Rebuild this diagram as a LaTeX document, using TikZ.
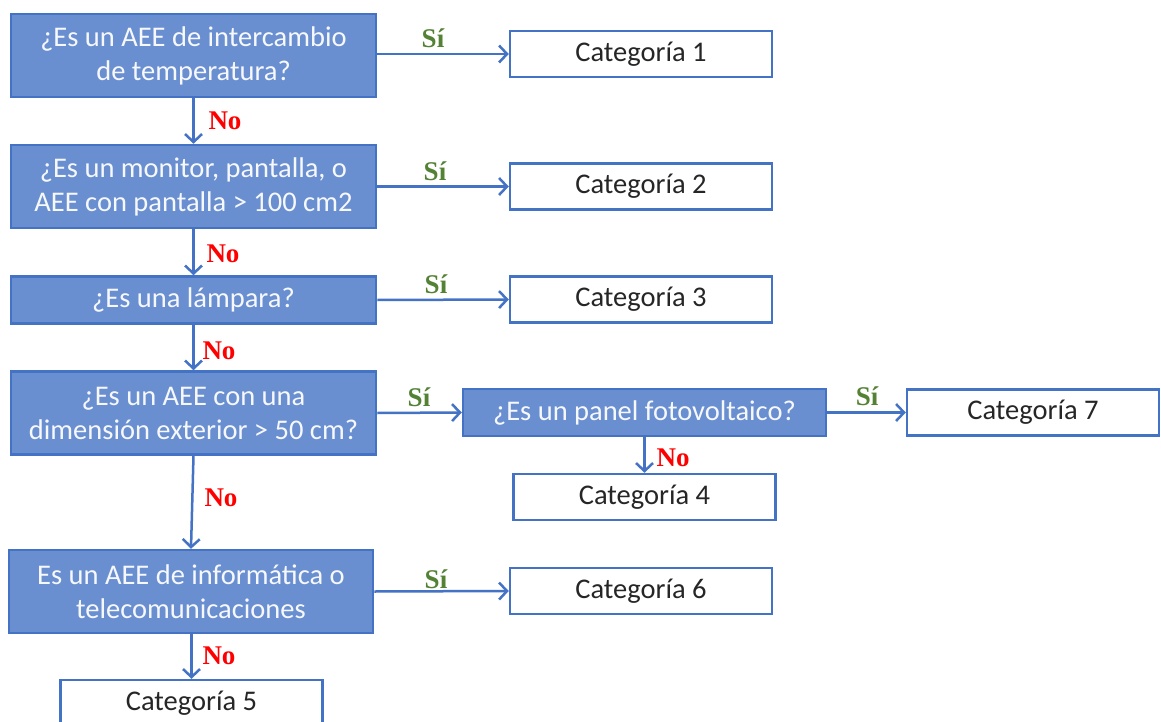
\documentclass[tikz,border=0pt]{standalone}
\usepackage{fontspec}
\setmainfont{Carlito}
\newfontfamily\lblfont{Liberation Serif}
\usetikzlibrary{arrows.meta}
\definecolor{bfill}{RGB}{106,143,208}
\definecolor{bline}{RGB}{68,114,196}
\definecolor{sigreen}{RGB}{84,130,53}
\definecolor{nored}{RGB}{255,0,0}
\begin{document}
\begin{tikzpicture}[x=1pt,y=-1pt,
  q/.style={draw=bline, fill=bfill, line width=2.5pt, text=white!94!bfill,
    font=\fontsize{28.5}{34}\selectfont, align=center, inner sep=0pt},
  cat/.style={draw=bline, fill=white, line width=2.5pt, text=black!85,
    font=\fontsize{28.5}{34}\selectfont, align=center, inner sep=0pt,
    minimum width=262pt, minimum height=46pt},
  arr/.style={draw=bline, line width=2.5pt, -{Straight Barb[length=8pt,width=17pt,line width=2.5pt]}},
  si/.style={text=sigreen, font=\lblfont\bfseries\fontsize{27}{30}\selectfont, inner sep=0pt},
  no/.style={text=nored, font=\lblfont\bfseries\fontsize{27}{30}\selectfont, inner sep=0pt}]
\useasboundingbox (0,0) rectangle (1161,722);
\fill[white] (0,0) rectangle (1161,722);
% question boxes
\node[q, minimum width=365pt, minimum height=83pt] (q1) at (193.5,55.5) {¿Es un AEE de intercambio\\de temperatura?};
\node[q, minimum width=365pt, minimum height=83pt] (q2) at (193.5,186.5) {¿Es un monitor, pantalla, o\\AEE con pantalla > 100 cm2};
\node[q, minimum width=365pt, minimum height=47pt] (q3) at (193.5,300) {¿Es una lámpara?};
\node[q, minimum width=365pt, minimum height=83pt] (q4) at (193.5,413) {¿Es un AEE con una\\dimensión exterior > 50 cm?};
\node[q, minimum width=364pt, minimum height=83pt] (q5) at (191,591.5) {Es un AEE de informática o\\telecomunicaciones};
\node[q, minimum width=363pt, minimum height=47pt] (qp) at (644.5,412.5) {¿Es un panel fotovoltaico?};
% categories
\node[cat] (c1) at (641,54) {Categoría 1};
\node[cat] (c2) at (641,186.5) {Categoría 2};
\node[cat] (c3) at (641,299.5) {Categoría 3};
\node[cat] (c4) at (644.5,497) {Categoría 4};
\node[cat] (c5) at (191.5,703) {Categoría 5};
\node[cat] (c6) at (641,591) {Categoría 6};
\node[cat, minimum width=252pt] (c7) at (1033,412.5) {Categoría 7};
% arrows
\draw[arr] (q1.east |- c1.west) -- (c1.west);
\draw[arr] (q2.east) -- (c2.west);
\draw[arr] (q3.east) -- (c3.west);
\draw[arr] (q4.east) -- (qp.west);
\draw[arr] (qp.east) -- (c7.west);
\draw[arr] (q5.east) -- (c6.west);
\draw[arr] (q1.south) -- (q2.north);
\draw[arr] (q2.south) -- (q3.north);
\draw[arr] (q3.south) -- (q4.north);
\draw[arr] (q4.south) -- (q5.north);
\draw[arr] (q5.south -| c5.north) -- (c5.north);
\draw[arr] (qp.south -| c4.north) -- (c4.north);
% labels
\node[si] (s1) at (433,38) {Sí};
\node[si] (s2) at (435,171) {Sí};
\node[si] (s3) at (436,284) {Sí};
\node[si] (s4) at (419,397) {Sí};
\node[si] (s5) at (867,396) {Sí};
\node[si] (s6) at (436,579) {Sí};
\node[no] (n1) at (225,121) {No};
\node[no] (n2) at (223,254) {No};
\node[no] (n3) at (219,351) {No};
\node[no] (n4) at (221,498) {No};
\node[no] (n5) at (673,458) {No};
\node[no] (n6) at (219,656) {No};
\end{tikzpicture}
\end{document}
